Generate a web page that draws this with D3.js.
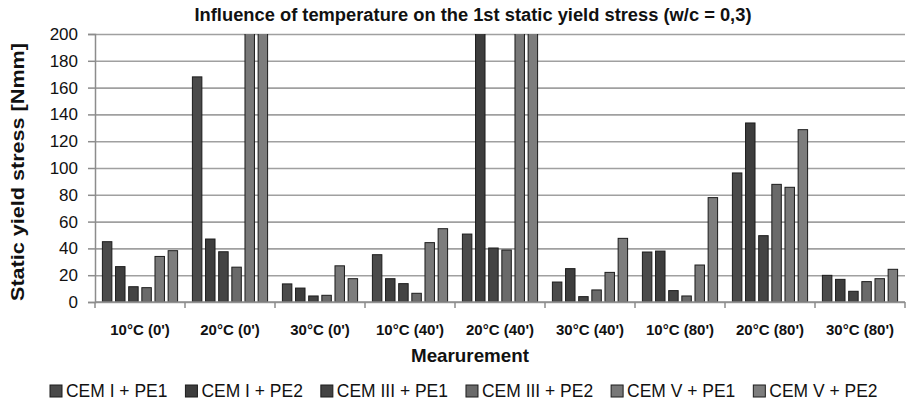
<!DOCTYPE html>
<html>
<head>
<meta charset="utf-8">
<script src="https://cdnjs.cloudflare.com/ajax/libs/d3/7.8.5/d3.min.js"></script>
<style>
    body { margin: 0; background: #fff; }
    svg { display: block; font-family: "Liberation Sans", "Noto Sans", sans-serif; }
</style>
</head>
<body>
<svg id="chart" width="906" height="404"></svg>
<script>
// categories and series (bars above 200 run off the chart and are clipped)
var categories = ["10°C (0')", "20°C (0')", "30°C (0')", "10°C (40')", "20°C (40')",
    "30°C (40')", "10°C (80')", "20°C (80')", "30°C (80')"];
var seriesNames = ["CEM I + PE1", "CEM I + PE2", "CEM III + PE1", "CEM III + PE2", "CEM V + PE1", "CEM V + PE2"];
var cemI_PE1 = [45, 168, 13.5, 35.3, 50.7, 14.9, 37.3, 96.3, 19.9];
var cemI_PE2 = [26.4, 47, 10.4, 17.4, 220, 24.9, 38, 133.6, 16.9];
var cemIII_PE1 = [11.4, 37.5, 4.5, 13.7, 40.3, 4, 8.5, 49.5, 8];
var cemIII_PE2 = [10.7, 26, 5, 6.5, 38.8, 9, 4.5, 87.8, 15.2];
var cemV_PE1 = [34, 220, 27, 44.3, 220, 22.1, 27.6, 85.6, 17.4];
var cemV_PE2 = [38.3, 220, 17.4, 54.7, 220, 47.5, 77.9, 128.6, 24.4];
var yTicks = [0, 20, 40, 60, 80, 100, 120, 140, 160, 180, 200];
var colors = ["#4a4a4a", "#3d3d3d", "#434343", "#6a6a6a", "#787878", "#7d7d7d"];

var seriesValues = [cemI_PE1, cemI_PE2, cemIII_PE1, cemIII_PE2, cemV_PE1, cemV_PE2];

var svg = d3.select('#chart');
var plotLeft = 95, plotRight = 905, plotTop = 34, plotBottom = 302;

var x0 = d3.scaleBand().domain(categories).range([plotLeft, plotRight]);
var x1 = d3.scaleBand().domain(seriesNames)
    .range([7.4, x0.bandwidth() - 7.4])
    .paddingInner(0.28);
var y = d3.scaleLinear().domain([0, 200]).range([plotBottom, plotTop]);

// title
svg.append('text')
    .attr('x', 473).attr('y', 21)
    .attr('text-anchor', 'middle')
    .attr('font-weight', 'bold').attr('font-size', 18)
    .attr('textLength', 557).attr('lengthAdjust', 'spacingAndGlyphs')
    .attr('fill', '#111')
    .text('Influence of  temperature on the 1st static yield stress  (w/c = 0,3)');

// gridlines
svg.append('g')
    .attr('transform', 'translate(' + plotLeft + ',0)')
    .call(d3.axisLeft(y).tickValues(yTicks).tickSize(-(plotRight - plotLeft)).tickFormat(''))
    .call(function (g) {
        g.select('.domain').remove();
        g.selectAll('line').attr('stroke', '#a0a0a0').attr('stroke-width', 1.6);
    });

// bars
svg.append('clipPath').attr('id', 'plotClip')
    .append('rect')
    .attr('x', plotLeft).attr('y', plotTop)
    .attr('width', plotRight - plotLeft).attr('height', plotBottom - plotTop);

var groups = svg.append('g').attr('clip-path', 'url(#plotClip)')
    .selectAll('g')
    .data(categories)
    .join('g')
    .attr('transform', function (d) { return 'translate(' + x0(d) + ',0)'; });

groups.selectAll('rect')
    .data(function (d, i) {
        return seriesNames.map(function (s, j) { return {series: s, index: j, value: seriesValues[j][i]}; });
    })
    .join('rect')
    .attr('x', function (d) { return x1(d.series); })
    .attr('width', x1.bandwidth())
    .attr('y', function (d) { return y(d.value); })
    .attr('height', function (d) { return y(0) - y(d.value); })
    .attr('fill', function (d) { return colors[d.index]; })
    .attr('stroke', '#1c1c1c')
    .attr('stroke-width', 1);

// y axis
svg.append('g')
    .attr('transform', 'translate(' + plotLeft + ',0)')
    .call(d3.axisLeft(y).tickValues(yTicks).tickSize(7).tickPadding(10))
    .call(function (g) {
        g.select('.domain').attr('stroke', '#8c8c8c').attr('stroke-width', 1.5);
        g.selectAll('line').attr('stroke', '#8c8c8c').attr('stroke-width', 1.5);
        g.selectAll('text').attr('font-size', 17).attr('fill', '#111')
            .attr('font-family', '"Liberation Sans", sans-serif');
    });

// x axis
var xAxis = svg.append('g').attr('transform', 'translate(0,' + plotBottom + ')');
xAxis.append('line')
    .attr('x1', plotLeft).attr('x2', plotRight)
    .attr('stroke', '#8c8c8c').attr('stroke-width', 1.5);
xAxis.selectAll('.sep')
    .data(categories.concat(['end']))
    .join('line')
    .attr('class', 'sep')
    .attr('x1', function (d) { return d === 'end' ? plotRight : x0(d); })
    .attr('x2', function (d) { return d === 'end' ? plotRight : x0(d); })
    .attr('y1', 0).attr('y2', 6)
    .attr('stroke', '#8c8c8c').attr('stroke-width', 1.5);
xAxis.selectAll('.lbl')
    .data(categories)
    .join('text')
    .attr('class', 'lbl')
    .attr('x', function (d) { return x0(d) + x0.bandwidth() / 2; })
    .attr('y', 33)
    .attr('text-anchor', 'middle')
    .attr('font-weight', 'bold').attr('font-size', 15)
    .attr('fill', '#111')
    .text(function (d) { return d; });

// axis titles
svg.append('text')
    .attr('x', 470).attr('y', 362)
    .attr('text-anchor', 'middle')
    .attr('font-weight', 'bold').attr('font-size', 19)
    .attr('textLength', 118).attr('lengthAdjust', 'spacingAndGlyphs')
    .attr('fill', '#111')
    .text('Mearurement');

svg.append('text')
    .attr('transform', 'translate(24,' + ((plotTop + plotBottom) / 2 + 4) + ') rotate(-90)')
    .attr('text-anchor', 'middle')
    .attr('font-weight', 'bold').attr('font-size', 19)
    .attr('textLength', 258).attr('lengthAdjust', 'spacingAndGlyphs')
    .attr('fill', '#111')
    .text('Static yield stress  [Nmm]');

// legend
var legend = svg.append('g').attr('transform', 'translate(0,397)');
var items = legend.selectAll('g')
    .data(seriesNames)
    .join('g');
items.append('rect')
    .attr('y', -12).attr('width', 12).attr('height', 12)
    .attr('fill', function (d, i) { return colors[i]; })
    .attr('stroke', '#1c1c1c').attr('stroke-width', 1);
items.append('text')
    .attr('x', 16)
    .attr('font-size', 18)
    .attr('fill', '#111')
    .text(function (d) { return d; });

var widths = [];
items.each(function () {
    widths.push(16 + d3.select(this).select('text').node().getComputedTextLength());
});
var gap = 18;
var total = d3.sum(widths) + gap * (widths.length - 1);
var scale = Math.min(1, 822 / total);
items.select('text').each(function () {
    var len = this.getComputedTextLength();
    if (scale < 1) d3.select(this).attr('textLength', len * scale).attr('lengthAdjust', 'spacingAndGlyphs');
});
var pos = 461 - 822 / 2;
items.attr('transform', function (d, i) {
    var t = 'translate(' + pos + ',0)';
    pos += 16 + (widths[i] - 16) * scale + gap;
    return t;
});
</script>
</body>
</html>
